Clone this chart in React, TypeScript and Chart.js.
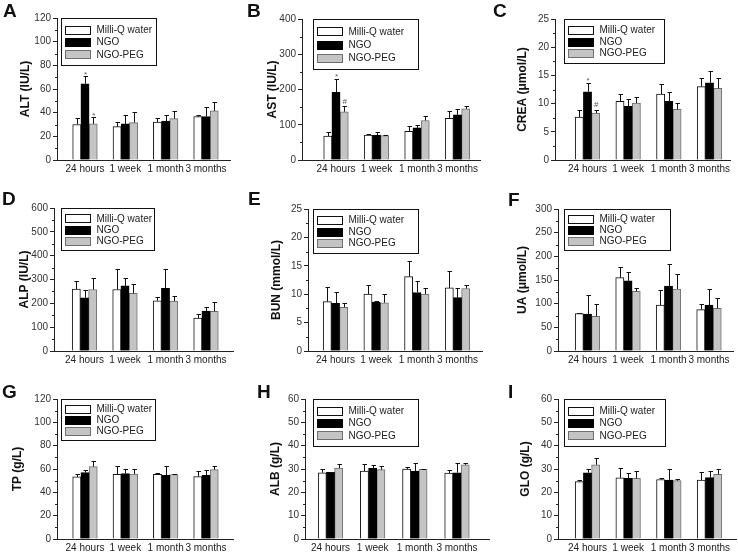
import React, { useEffect, useRef } from "react";
import { Chart, registerables } from "chart.js";
Chart.register(...registerables);

const categories = ["24 hours", "1 week", "1 month", "3 months"];
const seriesNames = ["Milli-Q water", "NGO", "NGO-PEG"];

// A – ALT (IU/L)
const altWater = [30, 28.2, 32, 36.7];
const altWaterSd = [5.3, 4.3, 3.3, 1.4];
const altNgo = [64.4, 30.5, 32.8, 36.7];
const altNgoSd = [6.2, 7.5, 5.2, 7.7];
const altPeg = [30.5, 31.6, 35, 41.5];
const altPegSd = [5.5, 8.8, 6, 7.7];
// B – AST (IU/L)
const astWater = [68, 71, 81.5, 118.5];
const astWaterSd = [11, 3, 15.5, 20.5];
const astNgo = [192, 71, 91, 128];
const astNgoSd = [38, 8, 7.6, 17];
const astPeg = [137, 69, 112, 145];
const astPegSd = [15, 1, 14, 7.6];
// C – CREA (μmol/L)
const creaWater = [7.6, 10.4, 11.7, 13];
const creaWaterSd = [1.3, 1.3, 1.7, 1.5];
const creaNgo = [12.1, 9.5, 10.4, 13.7];
const creaNgoSd = [1.5, 1.4, 1.6, 2.1];
const creaPeg = [8.3, 10.1, 9, 12.7];
const creaPegSd = [0.6, 1.0, 1.1, 1.8];
// D – ALP (IU/L)
const alpWater = [260, 258, 211, 138];
const alpWaterSd = [35, 85, 17, 19];
const alpNgo = [223, 273, 263, 167];
const alpNgoSd = [35, 32, 80, 16];
const alpPeg = [258, 242, 209, 166];
const alpPegSd = [47, 38, 23, 38];
// E – BUN (mmol/L)
const bunWater = [8.7, 10, 13.1, 11.1];
const bunWaterSd = [2.6, 1.7, 2.8, 3.0];
const bunNgo = [8.4, 8.6, 10.3, 9.4];
const bunNgoSd = [1.9, 0.2, 2.1, 1.7];
const bunPeg = [7.7, 8.5, 10, 11];
const bunPegSd = [0.7, 1.6, 1.1, 0.7];
// F – UA (μmol/L)
const uaWater = [79, 155, 97, 87.5];
const uaWaterSd = [2, 23, 31, 11.5];
const uaNgo = [78, 148, 137, 97];
const uaNgoSd = [40, 19, 46.5, 33];
const uaPeg = [73, 126, 131, 90];
const uaPegSd = [26, 8, 31, 22];
// G – TP (g/L)
const tpWater = [53.2, 55.4, 55.4, 53.5];
const tpWaterSd = [2.2, 7.2, 1.5, 4.5];
const tpNgo = [57, 56, 54.6, 54.6];
const tpNgoSd = [2, 4.3, 8.4, 4.4];
const tpPeg = [62, 55.7, 55.2, 59.4];
const tpPegSd = [4.5, 4.3, 0.3, 2.9];
// H – ALB (g/L)
const albWater = [28.4, 29.1, 30, 28.3];
const albWaterSd = [1.6, 2.9, 0.9, 1.4];
const albNgo = [28.6, 30.3, 29.1, 28.4];
const albNgoSd = [0.3, 1.4, 3.6, 4.0];
const albPeg = [30.4, 29.7, 29.9, 31.8];
const albPegSd = [1.9, 1.4, 0.3, 0.8];
// I – GLO (g/L)
const gloWater = [24.6, 26.2, 25.5, 25.3];
const gloWaterSd = [0.9, 4.1, 0.7, 3.4];
const gloNgo = [28.4, 26, 25.3, 26.3];
const gloNgoSd = [1.7, 2.3, 4.8, 2.7];
const gloPeg = [31.8, 26, 25, 27.7];
const gloPegSd = [2.9, 3, 0.9, 2.2];

// significance marks: [series, category, text]
const altMarks: [number, number, string][] = [[1, 0, "*"], [2, 0, "*"]];
const astMarks: [number, number, string][] = [[1, 0, "*"], [2, 0, "#"]];
const creaMarks: [number, number, string][] = [[1, 0, "*"], [2, 0, "#"]];

const FONT = "'Liberation Sans', Arial, Helvetica, sans-serif";
const fills = ["#ffffff", "#000000", "#c4c4c4"];
const borders = ["#111111", "#000000", "#6e6e6e"];

type Layout = {
  x0: number; y0: number; w: number; h: number;
  axisX: number; topY: number; zeroY: number; rightX: number;
  firstC: number; lastC: number; titleX: number;
  letterX: number; letterY: number;
  legDx: number; legW: number; legH: number;
};

type Panel = {
  letter: string; title: string; yMax: number; yStep: number;
  values: number[][]; sds: number[][]; marks: [number, number, string][];
  L: Layout;
};

const panels: Panel[] = [
  { letter: "A", title: "ALT (IU/L)", yMax: 120, yStep: 20, values: [altWater, altNgo, altPeg], sds: [altWaterSd, altNgoSd, altPegSd], marks: altMarks,
    L: { x0: 0, y0: 0, w: 245, h: 183, axisX: 57, topY: 18, zeroY: 160, rightX: 230, firstC: 85, lastC: 206, titleX: 26, letterX: 3, letterY: 17, legDx: 4, legW: 95, legH: 47 } },
  { letter: "B", title: "AST (IU/L)", yMax: 400, yStep: 100, values: [astWater, astNgo, astPeg], sds: [astWaterSd, astNgoSd, astPegSd], marks: astMarks,
    L: { x0: 245, y0: 0, w: 245, h: 183, axisX: 302, topY: 19, zeroY: 160, rightX: 480, firstC: 336, lastC: 457.5, titleX: 273, letterX: 247, letterY: 17, legDx: 11, legW: 105, legH: 50 } },
  { letter: "C", title: "CREA (μmol/L)", yMax: 25, yStep: 5, values: [creaWater, creaNgo, creaPeg], sds: [creaWaterSd, creaNgoSd, creaPegSd], marks: creaMarks,
    L: { x0: 490, y0: 0, w: 248, h: 183, axisX: 555, topY: 19, zeroY: 160, rightX: 730, firstC: 587.5, lastC: 709.5, titleX: 523, letterX: 493, letterY: 17, legDx: 9, legW: 100, legH: 44 } },
  { letter: "D", title: "ALP (IU/L)", yMax: 600, yStep: 100, values: [alpWater, alpNgo, alpPeg], sds: [alpWaterSd, alpNgoSd, alpPegSd], marks: [],
    L: { x0: 0, y0: 183, w: 245, h: 183, axisX: 54, topY: 208, zeroY: 351, rightX: 233, firstC: 84.5, lastC: 206, titleX: 25, letterX: 2, letterY: 205, legDx: 7, legW: 93, legH: 42 } },
  { letter: "E", title: "BUN (mmol/L)", yMax: 25, yStep: 5, values: [bunWater, bunNgo, bunPeg], sds: [bunWaterSd, bunNgoSd, bunPegSd], marks: [],
    L: { x0: 245, y0: 183, w: 245, h: 183, axisX: 308, topY: 209, zeroY: 351, rightX: 482, firstC: 335.5, lastC: 457.5, titleX: 277, letterX: 248, letterY: 205, legDx: 5, legW: 105, legH: 44 } },
  { letter: "F", title: "UA (μmol/L)", yMax: 300, yStep: 50, values: [uaWater, uaNgo, uaPeg], sds: [uaWaterSd, uaNgoSd, uaPegSd], marks: [],
    L: { x0: 490, y0: 183, w: 248, h: 183, axisX: 558, topY: 209, zeroY: 351, rightX: 733, firstC: 587.5, lastC: 709, titleX: 523, letterX: 508, letterY: 206, legDx: 6, legW: 106, legH: 41 } },
  { letter: "G", title: "TP (g/L)", yMax: 120, yStep: 20, values: [tpWater, tpNgo, tpPeg], sds: [tpWaterSd, tpNgoSd, tpPegSd], marks: [],
    L: { x0: 0, y0: 366, w: 245, h: 190, axisX: 57, topY: 399, zeroY: 539, rightX: 233, firstC: 85, lastC: 206, titleX: 18, letterX: 2, letterY: 398, legDx: 4, legW: 94, legH: 41 } },
  { letter: "H", title: "ALB (g/L)", yMax: 60, yStep: 10, values: [albWater, albNgo, albPeg], sds: [albWaterSd, albNgoSd, albPegSd], marks: [],
    L: { x0: 245, y0: 366, w: 245, h: 190, axisX: 305, topY: 399, zeroY: 539, rightX: 490, firstC: 330.5, lastC: 457, titleX: 276, letterX: 257, letterY: 398, legDx: 8, legW: 105, legH: 47 } },
  { letter: "I", title: "GLO (g/L)", yMax: 60, yStep: 10, values: [gloWater, gloNgo, gloPeg], sds: [gloWaterSd, gloNgoSd, gloPegSd], marks: [],
    L: { x0: 490, y0: 366, w: 248, h: 190, axisX: 558, topY: 399, zeroY: 539, rightX: 736, firstC: 587.5, lastC: 709.5, titleX: 526, letterX: 508, letterY: 398, legDx: 6, legW: 101, legH: 47 } },
];

function PanelChart({ p }: { p: Panel }) {
  const ref = useRef<HTMLCanvasElement>(null);
  const L = p.L;
  useEffect(() => {
    if (!ref.current) return;
    const s = (L.lastC - L.firstC) / 3;
    const xMin = -(L.firstC - L.axisX) / s;
    const xMax = 3 + (L.rightX - L.lastC) / s;
    const titleSize = 12;
    const titleLH = titleSize * 1.2;

    const decor = {
      id: "decor",
      afterDatasetsDraw(chart: any) {
        const ctx = chart.ctx;
        const y = chart.scales.y;
        ctx.save();
        ctx.strokeStyle = "#111";
        ctx.lineWidth = 1;
        p.values.forEach((vals, di) => {
          const meta = chart.getDatasetMeta(di);
          meta.data.forEach((bar: any, i: number) => {
            const top = Math.round(y.getPixelForValue(vals[i] + p.sds[di][i])) + 0.5;
            const x = Math.round(bar.x) + 0.5;
            ctx.beginPath();
            ctx.moveTo(x, bar.y);
            ctx.lineTo(x, top);
            ctx.moveTo(x - 2, top);
            ctx.lineTo(x + 2.5, top);
            ctx.stroke();
          });
        });
        ctx.fillStyle = "#555";
        ctx.font = `8px ${FONT}`;
        ctx.textAlign = "center";
        ctx.textBaseline = "bottom";
        p.marks.forEach(([di, i, t]) => {
          const bar = chart.getDatasetMeta(di).data[i];
          const top = y.getPixelForValue(p.values[di][i] + p.sds[di][i]);
          ctx.fillText(t, bar.x + 0.5, top - 1 + (t === "*" ? 3 : 0));
        });
        ctx.restore();
      },
      afterDraw(chart: any) {
        const ctx = chart.ctx;
        const y = chart.scales.y;
        const area = chart.chartArea;
        ctx.save();
        // minor ticks
        ctx.strokeStyle = "#222";
        ctx.lineWidth = 1;
        const ax = Math.round(area.left) + 0.5;
        for (let v = p.yStep / 2; v < p.yMax; v += p.yStep) {
          const py = Math.round(y.getPixelForValue(v)) + 0.5;
          ctx.beginPath();
          ctx.moveTo(ax - 2.5, py);
          ctx.lineTo(ax, py);
          ctx.stroke();
        }
        // legend box
        const bx = Math.round(L.axisX + L.legDx - L.x0) + 0.5;
        const by = Math.round(L.topY - L.y0) + 0.5;
        ctx.fillStyle = "#fff";
        ctx.fillRect(bx, by, L.legW, L.legH);
        ctx.strokeStyle = "#111";
        ctx.strokeRect(bx, by, L.legW, L.legH);
        const gap = L.legH * 0.265;
        ctx.font = `10px ${FONT}`;
        ctx.textAlign = "left";
        ctx.textBaseline = "middle";
        seriesNames.forEach((name, i) => {
          const cy = by + L.legH / 2 + (i - 1) * gap;
          const sy = Math.round(cy - 4) + 0.5;
          ctx.fillStyle = fills[i];
          ctx.fillRect(bx + 4, sy, 25, 8);
          ctx.strokeStyle = borders[i];
          ctx.strokeRect(bx + 4, sy, 25, 8);
          ctx.fillStyle = "#222";
          ctx.fillText(name, bx + 35, cy + 0.5);
        });
        // panel letter
        ctx.fillStyle = "#111";
        ctx.font = `bold 19px ${FONT}`;
        ctx.textAlign = "left";
        ctx.textBaseline = "alphabetic";
        ctx.fillText(p.letter, L.letterX - L.x0, L.letterY - L.y0);
        ctx.restore();
      },
    };

    const chart = new Chart(ref.current, {
      type: "bar",
      data: {
        datasets: p.values.map((vals, di) => ({
          label: seriesNames[di],
          data: vals.map((v, i) => ({ x: i, y: v })),
          backgroundColor: fills[di],
          borderColor: borders[di],
          borderWidth: 1,
          barThickness: 8.2,
        })),
      },
      options: {
        animation: false,
        responsive: false,
        maintainAspectRatio: false,
        devicePixelRatio: 1,
        events: [],
        layout: {
          padding: { left: 0, top: L.topY - L.y0, right: L.x0 + L.w - L.rightX, bottom: 0 },
        },
        plugins: { legend: { display: false }, tooltip: { enabled: false } },
        scales: {
          x: {
            type: "linear",
            offset: false,
            min: xMin,
            max: xMax,
            afterBuildTicks: (sc: any) => {
              sc.ticks = categories.map((_, i) => ({ value: i }));
            },
            afterFit: (sc: any) => {
              sc.height = L.y0 + L.h - L.zeroY;
            },
            ticks: {
              callback: (v: any) => categories[Math.round(Number(v))] ?? "",
              font: { family: FONT, size: 10 },
              color: "#222",
              padding: 3,
              autoSkip: false,
              maxRotation: 0,
              minRotation: 0,
            },
            grid: { display: false, drawTicks: false, offset: false },
            border: { display: true, color: "#222", width: 1 },
          },
          y: {
            min: 0,
            max: p.yMax,
            afterFit: (sc: any) => {
              sc.width = L.axisX - L.x0;
            },
            ticks: {
              stepSize: p.yStep,
              font: { family: FONT, size: 10 },
              color: "#333",
              padding: 2,
            },
            grid: { drawOnChartArea: false, drawTicks: true, tickLength: 4, color: "#222", tickColor: "#222" },
            border: { display: true, color: "#222", width: 1 },
            title: {
              display: true,
              text: p.title,
              font: { family: FONT, size: titleSize, weight: "bold" },
              color: "#111",
              padding: { top: L.titleX - L.x0 - titleLH / 2, bottom: 0 },
            },
          },
        },
      },
      plugins: [decor],
    } as any);
    return () => chart.destroy();
  }, [p]);
  return (
    <canvas
      ref={ref}
      width={L.w}
      height={L.h}
      style={{ position: "absolute", left: L.x0, top: L.y0, width: L.w, height: L.h }}
    />
  );
}

export default function App() {
  return (
    <div style={{ position: "absolute", left: 0, top: 0, width: 738, height: 556, background: "#fff" }}>
      {panels.map((p) => (
        <PanelChart key={p.letter} p={p} />
      ))}
    </div>
  );
}
